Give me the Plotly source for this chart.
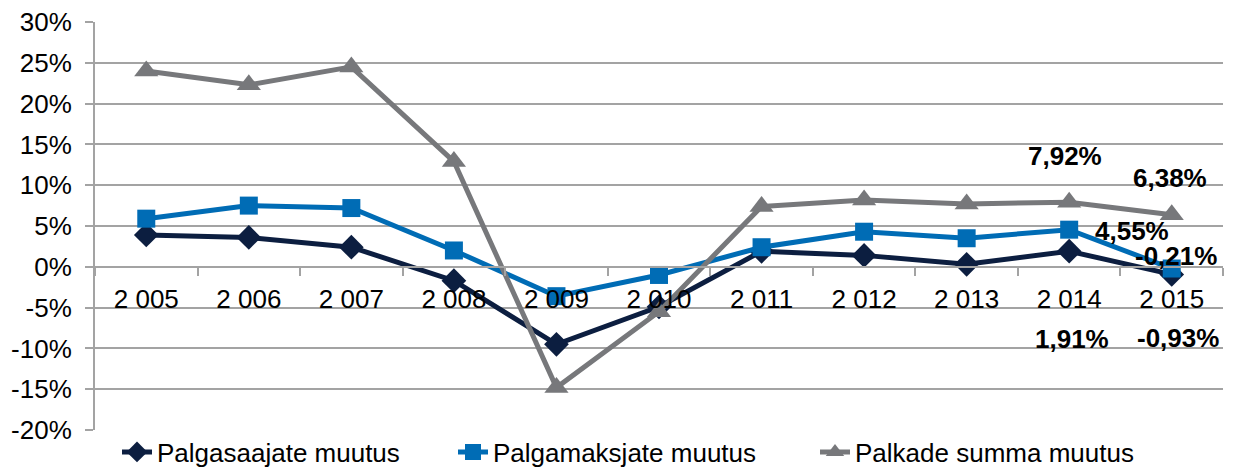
import plotly.graph_objects as go

years = ["2 005", "2 006", "2 007", "2 008", "2 009", "2 010", "2 011", "2 012", "2 013", "2 014", "2 015"]
palgasaajad = [3.9, 3.6, 2.4, -1.7, -9.5, -4.9, 1.9, 1.4, 0.3, 1.91, -0.93]
palgamaksjad = [5.9, 7.5, 7.2, 2.0, -3.6, -1.0, 2.4, 4.3, 3.5, 4.55, -0.21]
palkade_summa = [24.0, 22.3, 24.5, 12.9, -14.8, -5.5, 7.4, 8.2, 7.7, 7.92, 6.38]
y_ticks = [-20, -15, -10, -5, 0, 5, 10, 15, 20, 25, 30]

FONT = "Liberation Sans, Arial, sans-serif"
FS = 26
C_DARK = "#0C1E40"
C_BLUE = "#006CB5"
C_GRAY = "#77787B"
GRID = "#A3A3A3"

# the page body has an 8px margin, so the figure is drawn 8px smaller and offset
OFF = 8
W, H = 1237 - OFF, 468 - OFF
X0, X1 = 95 - OFF, 1223 - OFF      # plot area, pixels
Y0, Y1 = 22 - OFF, 430 - OFF

fig = go.Figure()
fig.add_trace(go.Scatter(x=years, y=palgasaajad, name="Palgasaajate muutus", mode="lines+markers",
                         line=dict(color=C_DARK, width=5), legend="legend",
                         marker=dict(symbol="diamond", size=19, color=C_DARK)))
fig.add_trace(go.Scatter(x=years, y=palgamaksjad, name="Palgamaksjate muutus", mode="lines+markers",
                         line=dict(color=C_BLUE, width=5), legend="legend2",
                         marker=dict(symbol="square", size=18, color=C_BLUE)))
fig.add_trace(go.Scatter(x=years, y=palkade_summa, name="Palkade summa muutus", mode="lines+markers",
                         line=dict(color=C_GRAY, width=5), legend="legend3",
                         marker=dict(symbol="triangle-up", size=21, color=C_GRAY)))

def fmt(v):
    return f"{v:.2f}%".replace(".", ",")

# data labels for the last two years: (series, index, xshift, yshift)
label_specs = [
    (palkade_summa, 9, -4, 46),
    (palkade_summa, 10, -2, 37),
    (palgamaksjad, 9, 63, -1),
    (palgamaksjad, 10, 4, 13),
    (palgasaajad, 9, 3, -88),
    (palgasaajad, 10, 6, -64),
]
for series, i, xs, ys in label_specs:
    fig.add_annotation(x=years[i], y=series[i], text=f"<b>{fmt(series[i])}</b>", showarrow=False,
                       xshift=xs, yshift=ys, font=dict(family=FONT, size=FS, color="#000000"))

leg_y = (H - (452 - OFF)) / H
def leg(xpx):
    return dict(orientation="h", x=xpx / W, xanchor="left", y=leg_y, yanchor="middle",
                font=dict(family=FONT, size=FS, color="#000000"), bgcolor="rgba(0,0,0,0)",
                borderwidth=0)

fig.update_layout(
    width=W, height=H,
    margin=dict(l=0, r=0, t=0, b=0, autoexpand=False),
    paper_bgcolor="white", plot_bgcolor="white",
    font=dict(family=FONT, size=FS, color="#000000"),
    showlegend=True,
    legend=leg(109), legend2=leg(445), legend3=leg(807),
    xaxis=dict(type="category", domain=[X0 / W, X1 / W], anchor="free",
               range=[-0.5, len(years) - 0.5],
               position=(H - (Y0 + (Y1 - Y0) * 30 / 50)) / H,
               showline=True, linecolor=GRID, linewidth=2,
               ticks="outside", tickson="boundaries", ticklen=8, tickcolor=GRID, tickwidth=2,
               showgrid=False, zeroline=False, tickfont=dict(family=FONT, size=FS),
               ticklabelstandoff=9, automargin=False, ticklabeloverflow="allow"),
    yaxis=dict(domain=[(H - Y1) / H, (H - Y0) / H], range=[-20, 30], tickvals=y_ticks,
               ticktext=[f"{v}%" for v in y_ticks],
               showgrid=True, gridcolor=GRID, gridwidth=2, zeroline=False,
               showline=True, linecolor=GRID, linewidth=2, ticks="outside", ticklen=8,
               tickcolor=GRID, tickwidth=2, tickfont=dict(family=FONT, size=FS),
               ticklabelstandoff=8, automargin=False, ticklabeloverflow="allow"),
)

fig.write_html("out.html")
